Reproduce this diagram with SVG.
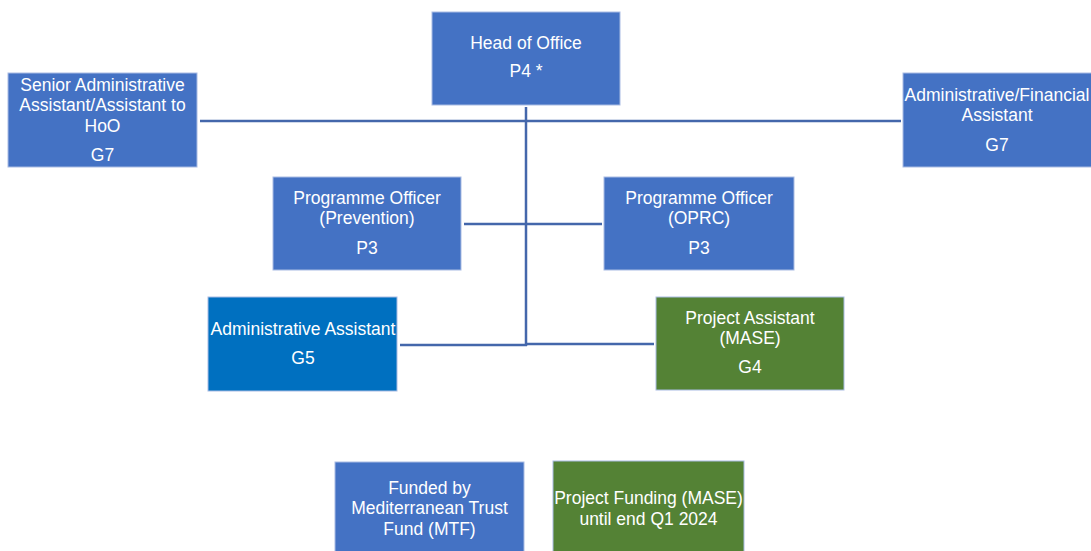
<svg xmlns="http://www.w3.org/2000/svg" width="1091" height="551" viewBox="0 0 1091 551">
<style>
.box{stroke:#A9BCE3;stroke-width:1}
.blue{fill:#4472C4}
.dblue{fill:#0070C0}
.green{fill:#548235}
.lbl{font-family:"Liberation Sans",Arial,sans-serif;font-size:17.5px;fill:#FFFFFF;text-anchor:middle}
.conn{stroke:#4467AB;stroke-width:2.5;fill:none}
</style>
<rect width="1091" height="551" fill="#FFFFFF"/>
<g id="connectors">
<line class="conn" x1="526" y1="107" x2="526" y2="346"/>
<line class="conn" x1="200" y1="121" x2="901" y2="121"/>
<line class="conn" x1="464" y1="224" x2="602" y2="224"/>
<line class="conn" x1="400" y1="345" x2="527" y2="345"/>
<line class="conn" x1="525" y1="344" x2="654" y2="344"/>
</g>
<g id="head">
<rect class="box blue" x="432" y="12" width="188" height="93"/>
<text class="lbl" x="526" y="49">Head of Office</text>
<text class="lbl" x="526" y="77">P4 *</text>
</g>
<g id="senior-admin">
<rect class="box blue" x="8" y="73" width="189" height="94"/>
<text class="lbl" x="102.5" y="91">Senior Administrative</text>
<text class="lbl" x="102.5" y="111">Assistant/Assistant to</text>
<text class="lbl" x="102.5" y="132">HoO</text>
<text class="lbl" x="102.5" y="161">G7</text>
</g>
<g id="admin-financial">
<rect class="box blue" x="903" y="73" width="189" height="94"/>
<text class="lbl" x="997" y="101">Administrative/Financial</text>
<text class="lbl" x="997" y="121">Assistant</text>
<text class="lbl" x="997" y="151">G7</text>
</g>
<g id="po-prevention">
<rect class="box blue" x="273" y="177" width="188" height="93"/>
<text class="lbl" x="367" y="204">Programme Officer</text>
<text class="lbl" x="367" y="224">(Prevention)</text>
<text class="lbl" x="367" y="254">P3</text>
</g>
<g id="po-oprc">
<rect class="box blue" x="604" y="177" width="190" height="93"/>
<text class="lbl" x="699" y="204">Programme Officer</text>
<text class="lbl" x="699" y="224">(OPRC)</text>
<text class="lbl" x="699" y="254">P3</text>
</g>
<g id="admin-assistant">
<rect class="box dblue" x="208" y="297" width="189" height="94"/>
<text class="lbl" x="303" y="335">Administrative Assistant</text>
<text class="lbl" x="303" y="364">G5</text>
</g>
<g id="project-assistant">
<rect class="box green" x="656" y="297" width="188" height="93"/>
<text class="lbl" x="750" y="324">Project Assistant</text>
<text class="lbl" x="750" y="344">(MASE)</text>
<text class="lbl" x="750" y="373">G4</text>
</g>
<g id="legend-mtf">
<rect class="box blue" x="335" y="462" width="189" height="92"/>
<text class="lbl" x="429.5" y="494">Funded by</text>
<text class="lbl" x="429.5" y="514">Mediterranean Trust</text>
<text class="lbl" x="429.5" y="535">Fund (MTF)</text>
</g>
<g id="legend-mase">
<rect class="box green" x="553" y="461" width="191" height="93"/>
<text class="lbl" x="648.5" y="504">Project Funding (MASE)</text>
<text class="lbl" x="648.5" y="525">until end Q1 2024</text>
</g>
</svg>
